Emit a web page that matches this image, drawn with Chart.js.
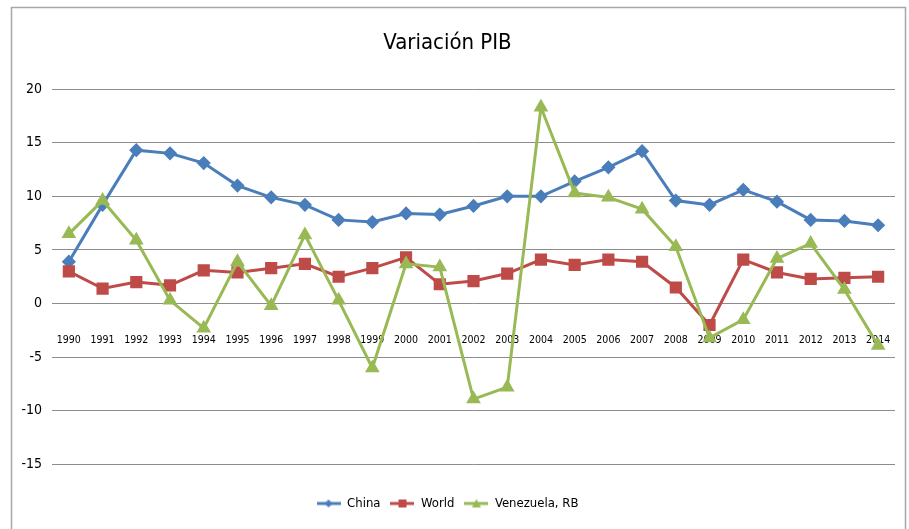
<!DOCTYPE html>
<html>
<head>
<meta charset="utf-8">
<script src="https://cdn.jsdelivr.net/npm/chart.js@4"></script>
<style>
  html, body { margin: 0; padding: 0; background: #fff; }
</style>
</head>
<body>
<canvas id="myChart" width="909" height="529"></canvas>
<script>
const years = ['1990','1991','1992','1993','1994','1995','1996','1997','1998','1999','2000','2001','2002',
               '2003','2004','2005','2006','2007','2008','2009','2010','2011','2012','2013','2014'];
const china = [3.9, 9.2, 14.3, 14.0, 13.1, 11.0, 9.9, 9.2, 7.8, 7.6, 8.4, 8.3, 9.1,
               10.0, 10.0, 11.4, 12.7, 14.2, 9.6, 9.2, 10.6, 9.5, 7.8, 7.7, 7.3];
const world = [3.0, 1.4, 2.0, 1.7, 3.1, 2.9, 3.3, 3.7, 2.5, 3.3, 4.3, 1.8, 2.1,
               2.8, 4.1, 3.6, 4.1, 3.9, 1.5, -2.0, 4.1, 2.9, 2.3, 2.4, 2.5];
const venezuela = [6.5, 9.6, 5.9, 0.3, -2.3, 3.9, -0.2, 6.4, 0.3, -6.0, 3.7, 3.4, -8.9,
                   -7.8, 18.3, 10.3, 9.9, 8.8, 5.3, -3.2, -1.5, 4.2, 5.6, 1.3, -3.9];

const FONT = "'DejaVu Sans Condensed', 'Liberation Sans Narrow', sans-serif";
const BLUE = '#4a7ebb', RED = '#be4b48', GREEN = '#98b954';

// small legend swatch: line with marker in the middle
function swatch(color, shape) {
    const c = document.createElement('canvas');
    c.width = 24; c.height = 12;
    const g = c.getContext('2d');
    g.strokeStyle = color; g.fillStyle = color; g.lineWidth = 3;
    g.beginPath(); g.moveTo(0, 6); g.lineTo(24, 6); g.stroke();
    g.beginPath();
    if (shape === 'diamond') { g.moveTo(12, 2); g.lineTo(16, 6); g.lineTo(12, 10); g.lineTo(8, 6); }
    else if (shape === 'square') { g.rect(8, 2, 8, 8); }
    else { g.moveTo(12, 1.5); g.lineTo(16.5, 10); g.lineTo(7.5, 10); }
    g.closePath(); g.fill();
    return c;
}
const swatches = [swatch(BLUE, 'diamond'), swatch(RED, 'square'), swatch(GREEN, 'triangle')];

const framePlugin = {
    id: 'frame',
    beforeDraw(chart) {
        const ctx = chart.ctx;
        ctx.save();
        ctx.fillStyle = '#fff';
        ctx.fillRect(0, 0, chart.width, chart.height);
        ctx.strokeStyle = '#a6a6a6';
        ctx.lineWidth = 1.5;
        ctx.strokeRect(11.5, 7.5, 894, 560);
        ctx.restore();
    }
};

const ctx = document.getElementById('myChart').getContext('2d');
const chart = new Chart(ctx, {
    type: 'line',
    data: {
        labels: years,
        datasets: [
            { label: 'China', data: china, borderColor: BLUE, backgroundColor: BLUE, borderWidth: 3,
              pointStyle: 'rectRot', pointRadius: 5, order: 2 },
            { label: 'World', data: world, borderColor: RED, backgroundColor: RED, borderWidth: 3,
              pointStyle: 'rect', pointRadius: 6.5, order: 1 },
            { label: 'Venezuela, RB', data: venezuela, borderColor: GREEN, backgroundColor: GREEN, borderWidth: 3,
              pointStyle: 'triangle', pointRadius: 5.5, order: 0 }
        ]
    },
    options: {
        responsive: false,
        animation: false,
        layout: { padding: { left: 0, right: 14, top: 0, bottom: 9 } },
        plugins: {
            title: {
                display: true,
                text: 'Variación PIB',
                color: '#000',
                font: { family: FONT, size: 22, weight: 'normal', lineHeight: 1.2 },
                padding: { top: 30, bottom: 32.6 }
            },
            legend: {
                position: 'bottom',
                title: { display: true, text: ' ', font: { size: 10, lineHeight: 1.2 }, padding: { top: 10.5, bottom: 0 } },
                labels: {
                    usePointStyle: true,
                    pointStyleWidth: 24,
                    boxHeight: 12,
                    padding: 10,
                    color: '#000',
                    font: { family: FONT, size: 13 },
                    generateLabels: (chart) => chart.data.datasets.map((ds, i) => ({
                        text: ds.label,
                        pointStyle: swatches[i],
                        fillStyle: ds.borderColor,
                        strokeStyle: ds.borderColor,
                        lineWidth: 0,
                        fontColor: '#000',
                        datasetIndex: i
                    }))
                }
            },
            tooltip: { enabled: false }
        },
        scales: {
            x: {
                type: 'category',
                offset: true,
                // labels sit just under the zero line
                position: { y: -1.9 },
                grid: { display: false },
                border: { display: false },
                ticks: { color: '#000', font: { family: FONT, size: 10.5 }, padding: 2, maxRotation: 0, autoSkip: false }
            },
            y: {
                min: -15,
                max: 20,
                ticks: { stepSize: 5, color: '#000', font: { family: FONT, size: 14 }, padding: 10 },
                grid: { color: '#8c8c8c', lineWidth: 1, drawTicks: false },
                border: { display: false },
                afterFit: (scale) => { scale.width = 52; }
            }
        }
    },
    plugins: [framePlugin]
});
</script>
</body>
</html>
